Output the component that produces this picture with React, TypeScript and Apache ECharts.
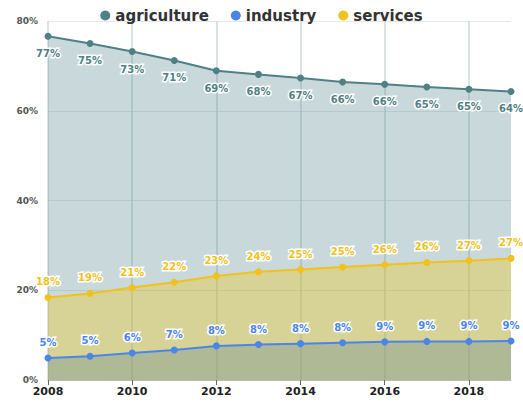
import React, { useEffect, useRef } from "react";
import * as echarts from "echarts";

const years = ["2008","2009","2010","2011","2012","2013","2014","2015","2016","2017","2018","2019"];
const agriculture = [76.6, 75.0, 73.2, 71.2, 68.9, 68.1, 67.3, 66.4, 65.9, 65.3, 64.8, 64.3];
const industry = [4.9, 5.3, 6.0, 6.7, 7.6, 7.9, 8.1, 8.3, 8.5, 8.6, 8.6, 8.7];
const services = [18.4, 19.3, 20.6, 21.8, 23.2, 24.1, 24.6, 25.2, 25.7, 26.2, 26.6, 27.1];
const yTicks = { min: 0, max: 80, interval: 20 };

const FONT = "'DejaVu Sans', Verdana, sans-serif";

export default function App() {
  const ref = useRef<HTMLDivElement>(null);
  useEffect(() => {
    const chart = echarts.init(ref.current!, undefined, { renderer: "svg" });
    const label = (color: string, position: string, distance: number) => ({
      show: true,
      position,
      distance,
      color,
      fontFamily: FONT,
      fontWeight: "bold",
      fontSize: 10,
      textBorderColor: "#fff",
      textBorderWidth: 3,
      formatter: (p: any) => Math.round(p.value) + "%",
    });
    chart.setOption({
      animation: false,
      legend: {
        data: ["agriculture", "industry", "services"],
        top: 3,
        left: "center",
        icon: "circle",
        itemWidth: 10,
        itemHeight: 10,
        itemGap: 22,
        textStyle: { fontFamily: FONT, fontWeight: "bold", fontSize: 15, color: "#333" },
      },
      grid: { left: 48, right: 12, top: 21, bottom: 22 },
      xAxis: {
        type: "category",
        data: years,
        boundaryGap: false,
        axisLine: { show: true, lineStyle: { color: "#bbb" } },
        axisTick: { show: true, interval: 1, length: 5, lineStyle: { color: "#666" } },
        axisLabel: { interval: 1, color: "#222", fontFamily: FONT, fontWeight: "bold", fontSize: 11, margin: 6 },
        splitLine: { show: true, interval: 1, lineStyle: { color: "#d0d8d8", width: 1.5 } },
      },
      yAxis: {
        type: "value",
        min: yTicks.min,
        max: yTicks.max,
        interval: yTicks.interval,
        axisLine: { show: false },
        axisTick: { show: false },
        axisLabel: { formatter: "{value}%", color: "#555", fontFamily: FONT, fontWeight: "bold", fontSize: 9, margin: 10 },
        splitLine: { lineStyle: { color: "#e4e8e8" } },
      },
      series: [
        {
          name: "agriculture",
          type: "line",
          data: agriculture,
          color: "#4f8184",
          symbol: "circle",
          symbolSize: 7,
          lineStyle: { width: 2 },
          areaStyle: { color: "rgba(77,128,136,0.3)", opacity: 1 },
          label: label("#4f8184", "bottom", 9),
        },
        {
          name: "services",
          type: "line",
          data: services,
          color: "#f1c21b",
          symbol: "circle",
          symbolSize: 7,
          lineStyle: { width: 2 },
          areaStyle: { color: "rgba(240,196,25,0.36)", opacity: 1 },
          label: label("#f1c21b", "top", 7),
        },
        {
          name: "industry",
          type: "line",
          data: industry,
          color: "#4a86e8",
          symbol: "circle",
          symbolSize: 7,
          lineStyle: { width: 2 },
          areaStyle: { color: "rgba(85,128,150,0.3)", opacity: 1 },
          label: label("#4a86e8", "top", 7),
        },
      ],
    });
    return () => chart.dispose();
  }, []);
  return <div ref={ref} style={{ width: 523, height: 402, position: "absolute", left: 0, top: 0 }} />;
}
